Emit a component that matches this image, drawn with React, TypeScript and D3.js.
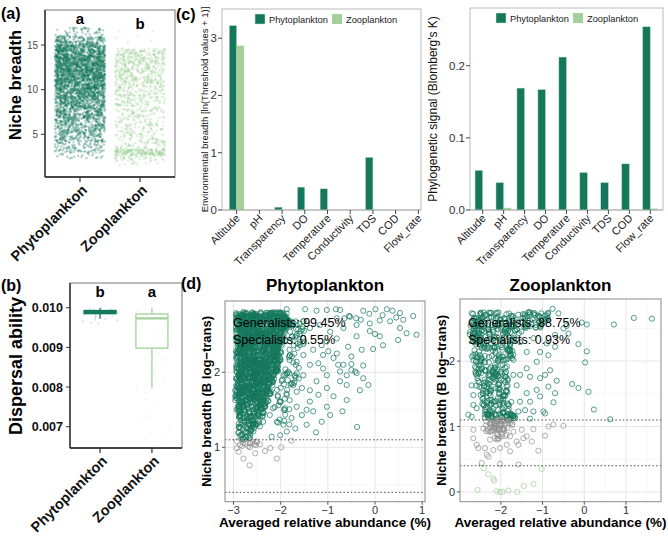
import React from "react";
import * as d3 from "d3";

const FF = "'Liberation Sans', Arial, Helvetica, sans-serif";
const PHYTO = "#15785c";
const ZOO = "#a3d09b";
const GRAY = "#8f8f8f";

const groups = ["Phytoplankton", "Zooplankton"];

// (a) niche breadth: density of the jittered cloud, [low, high, number of taxa]
const phytoNicheBins: number[][] = [
  [2.3, 3, 25], [3, 4, 75], [4, 5, 115], [5, 6, 155], [6, 7, 175], [7, 8, 210],
  [8, 9, 250], [9, 10, 310], [10, 11, 350], [11, 12, 390], [12, 13, 410],
  [13, 14, 390], [14, 15, 320], [15, 16, 175], [16, 17, 45],
];
const zooNicheBins: number[][] = [
  [1.5, 2.2, 20], [2.2, 2.7, 40], [2.7, 3.3, 170], [3.3, 4, 45], [4, 5, 55],
  [5, 6, 55], [6, 7, 55], [7, 8, 60], [8, 9, 70], [9, 10, 85], [10, 11, 95],
  [11, 12, 105], [12, 13, 115], [13, 14, 125], [14, 14.6, 70], [14.6, 16.6, 6],
];
const nicheTicks = [5, 10, 15];

// (b) dispersal ability: [min, q1, median, q3, max]
const dispersalBoxPhyto = [0.00972, 0.00985, 0.00989, 0.00993, 0.00999];
const dispersalBoxZoo = [0.00797, 0.00898, 0.00973, 0.00984, 0.0100];
const dispersalPtsPhyto = [0.0096, 0.00965, 0.0097, 0.00972, 0.00975, 0.00978, 0.0098, 0.00982,
  0.00985, 0.00987, 0.0099, 0.00992, 0.00995, 0.00997, 0.00999, 0.00962, 0.00968, 0.00981, 0.00993, 0.00996];
const dispersalPtsZoo = [0.00662, 0.00668, 0.00685, 0.007, 0.00712, 0.00725, 0.00735, 0.00748, 0.0077,
  0.00785, 0.008, 0.00815, 0.0083, 0.0085, 0.0087, 0.00885, 0.009, 0.00915, 0.0093, 0.00945, 0.00955,
  0.00965, 0.00975, 0.00985, 0.00992, 0.00998, 0.0087, 0.00912, 0.0096, 0.0098];
const dispersalTicks = [0.007, 0.008, 0.009, 0.01];

// (c)
const envVars = ["Altitude", "pH", "Transparency", "DO", "Temperature", "Conductivity", "TDS", "COD", "Flow_rate"];
const envBreadthPhyto = [3.22, 0, 0.05, 0.4, 0.37, 0, 0.92, 0, 0];
const envBreadthZoo = [2.87, 0, 0, 0, 0, 0, 0, 0, 0];
const envTicks = [0, 1, 2, 3];
const blombergPhyto = [0.055, 0.038, 0.169, 0.167, 0.212, 0.052, 0.038, 0.064, 0.254];
const blombergZoo = [0, 0.003, 0, 0, 0, 0, 0, 0, 0.002];
const blombergTicks = [0, 0.1, 0.2];

// (d) dense cores: [yLow, yHigh, xMin, xMax, number of taxa]
const phytoDenseRows: number[][] = [
  [2.7, 2.8, -2.95, -1.85, 135], [2.6, 2.7, -2.95, -1.75, 130], [2.5, 2.6, -2.95, -1.9, 120],
  [2.4, 2.5, -2.95, -2.0, 112], [2.3, 2.4, -2.95, -2.0, 112], [2.2, 2.3, -2.95, -2.0, 112],
  [2.1, 2.2, -2.95, -2.0, 110], [2.0, 2.1, -2.95, -2.05, 105], [1.9, 2.0, -2.97, -2.1, 100],
  [1.8, 1.9, -2.97, -2.15, 92], [1.7, 1.8, -2.97, -2.2, 85], [1.6, 1.7, -2.97, -2.25, 72],
  [1.5, 1.6, -2.95, -2.3, 55], [1.4, 1.5, -2.92, -2.35, 40], [1.3, 1.4, -2.9, -2.4, 30],
  [1.2, 1.3, -2.9, -2.5, 22], [1.1, 1.2, -2.9, -2.6, 14], [1.0, 1.1, -2.95, -2.5, 8],
  [2.3, 2.7, -2.0, -1.5, 45], [1.8, 2.3, -2.0, -1.6, 30], [1.3, 1.8, -2.2, -1.8, 20],
];
const phytoPoints: number[][] = [
  [-1.87, 2.84], [-1.48, 2.84], [-1.24, 2.82], [-1.02, 2.83], [-0.83, 2.84], [-0.74, 2.83], [-0.25, 2.82],
  [0.01, 2.84], [0.25, 2.84], [0.37, 2.82], [0.53, 2.79], [0.81, 2.75], [-0.55, 2.75], [-0.4, 2.72],
  [-0.12, 2.78], [0.16, 2.76], [0.45, 2.73], [-0.65, 2.72], [-0.3, 2.7], [0.1, 2.69],
  [-0.39, 2.48], [0.0, 2.51], [0.1, 2.48], [0.67, 2.52], [0.88, 2.5], [0.49, 2.43], [0.17, 2.36],
  [-0.04, 2.31], [-0.28, 2.3], [-0.57, 2.34], [-0.81, 2.45], [-1.02, 2.41], [-1.1, 2.23], [-0.88, 2.19],
  [-0.67, 2.1], [-0.5, 2.11], [-0.25, 2.09], [-0.5, 2.03], [-0.74, 2.01], [-0.6, 1.96], [-0.39, 1.99],
  [-0.25, 1.92], [-0.14, 1.83], [-0.32, 1.76], [-0.6, 1.83], [-0.74, 1.88], [-1.02, 1.79], [-0.88, 1.68],
  [-0.6, 1.63], [-1.2, 1.7], [-1.38, 1.61], [-1.45, 1.5], [-1.31, 1.48], [-1.55, 1.43], [-1.13, 1.34],
  [-1.45, 1.3], [-1.25, 1.2], [-0.69, 1.48], [-0.38, 1.27], [-1.69, 1.25], [-1.87, 1.21], [-2.01, 1.16],
  [-2.19, 1.14], [-1.77, 1.39], [-1.91, 1.52], [-1.66, 1.54], [-1.02, 1.54], [-0.95, 1.43], [-1.24, 1.88],
  [-1.52, 1.96], [-1.38, 2.1], [-1.1, 2.05], [-1.02, 1.96], [-1.2, 2.12], [-0.99, 2.28], [-0.81, 2.25],
  [-0.5, 2.21], [-1.31, 2.3], [-1.13, 2.36], [-1.52, 2.23], [-1.66, 2.14], [-1.73, 1.83], [-1.87, 1.7],
  [-2.01, 1.61], [-2.16, 1.52], [-2.23, 1.43], [-2.37, 1.34], [-2.44, 1.28], [-2.58, 1.21], [-2.65, 1.16],
  [-2.08, 1.34], [-1.94, 1.3], [-1.66, 1.74], [-1.55, 1.79], [-1.38, 1.76], [-0.78, 2.1], [-0.42, 2.01],
  [-0.67, 2.59], [-0.39, 2.63], [-0.11, 2.65], [0.32, 2.68], [0.6, 2.7], [0.53, 2.59], [-0.11, 2.55],
  [-0.95, 2.54], [-1.17, 2.63], [-1.38, 2.59], [-1.52, 2.68], [-1.66, 2.5], [-1.8, 2.41], [-0.81, 2.72],
  [-0.53, 2.74],
  [-2.54, 0.92], [-2.79, 0.85], [-2.66, 0.76], [-2.22, 0.99], [-1.99, 1.0], [-2.08, 0.85], [-2.33, 0.95],
  [-1.77, 1.09], [-2.65, 1.0], [-2.93, 1.08], [-2.86, 1.03], [-2.93, 0.99], [-2.75, 1.05], [-2.65, 1.05],
  [-2.89, 0.94], [-2.52, 1.08], [-2.44, 1.04],
];
const zooDenseRows: number[][] = [
  [2.6, 2.75, -2.7, -0.85, 80], [2.5, 2.6, -2.75, -1.0, 58], [2.4, 2.5, -2.75, -1.5, 45],
  [2.2, 2.4, -2.7, -1.6, 58], [2.0, 2.2, -2.7, -1.7, 52], [1.8, 2.0, -2.65, -1.75, 45],
  [1.6, 1.8, -2.6, -1.8, 40], [1.4, 1.6, -2.5, -1.8, 38], [1.2, 1.4, -2.45, -1.75, 40],
  [1.1, 1.2, -2.4, -1.65, 40], [0.95, 1.1, -2.4, -1.7, 40], [0.8, 0.95, -2.35, -1.85, 15],
];
const zooPoints: number[][] = [
  [1.19, 2.66], [1.62, 2.65], [0.71, 2.56], [-0.06, 2.59], [0.06, 2.56], [-0.42, 2.54], [-0.14, 2.26],
  [0.06, 2.15], [0.02, 1.98], [-0.29, 1.65], [-0.14, 1.59], [0.1, 1.53], [0.23, 1.26], [0.62, 1.11],
  [-0.76, 2.8], [-0.62, 2.73], [-0.5, 2.5], [-0.38, 2.42], [-0.7, 2.4], [-0.9, 2.27], [-0.7, 2.22],
  [-0.86, 2.09], [-0.82, 1.86], [-1.06, 1.74], [-0.66, 1.7], [-0.86, 1.61], [-1.14, 1.56], [-0.94, 1.79],
  [-1.3, 1.76], [-0.7, 1.51], [-0.74, 1.37], [-0.98, 1.23], [-1.22, 1.23], [-1.42, 1.25], [-1.3, 1.12],
  [-0.94, 1.2], [-1.06, 1.46], [-1.3, 1.38], [-1.54, 1.38], [-1.38, 1.51], [-1.62, 1.63], [-1.38, 1.89],
  [-1.54, 1.79], [-1.14, 1.99], [-1.38, 2.14], [-1.06, 2.14], [-1.54, 2.29], [-1.22, 2.35], [-1.7, 2.02],
  [-1.7, 1.79], [-1.58, 1.23], [-2.7, 1.15], [-2.78, 1.18], [-2.66, 1.48], [-2.7, 1.63], [-2.66, 1.33],
  [-2.58, 1.28], [-2.58, 1.79],
  [-2.66, 0.95], [-2.66, 0.82], [-2.54, 0.67], [-2.38, 0.67], [-2.26, 0.8], [-2.1, 0.8], [-2.02, 0.67],
  [-1.86, 0.72], [-1.78, 0.85], [-1.62, 0.77], [-1.38, 0.85], [-1.26, 0.77], [-0.94, 0.86], [-0.86, 1.0],
  [-0.5, 1.01], [-0.74, 1.03], [-1.1, 0.63], [-2.3, 0.54], [-2.34, 0.57], [-2.46, 0.44], [-2.02, 0.43],
  [-1.58, 0.42], [-1.58, 0.72], [-1.94, 0.95], [-2.26, 0.92], [-2.42, 0.97], [-2.14, 0.97], [-1.7, 0.92],
  [-1.5, 0.95], [-1.22, 0.96], [-2.58, 0.72], [-2.18, 0.64], [-1.78, 0.62], [-1.46, 0.82], [-2.1, 1.08],
  [-1.78, 1.05],
  [-2.41, 0.36], [-2.3, 0.27], [-2.18, 0.2], [-2.16, 0.17], [-2.56, 0.03], [-2.02, 0.0], [-1.96, 0.0],
  [-1.82, 0.02], [-1.61, 0.0], [-1.45, 0.09], [-1.22, 0.12], [-1.02, 0.35], [-2.1, 0.01],
];
const generalistCut = 1.1;
const specialistCut = 0.4;

// jitter layout: deterministic hash spreads each bin's taxa inside the bin (placement, not data)
function hash(k: number) {
  let t = (Math.imul(k, 0x6d2b79f5) + 0x9e3779b9) >>> 0;
  t = Math.imul(t ^ (t >>> 15), t | 1);
  t ^= t + Math.imul(t ^ (t >>> 7), t | 61);
  return ((t ^ (t >>> 14)) >>> 0) / 4294967296;
}
function spread(bins: number[][], seed: number) {
  const out: { u: number; v: number }[] = [];
  let k = seed;
  for (const [lo, hi, n] of bins) {
    for (let i = 0; i < n; i++) {
      k++;
      out.push({ u: hash(2 * k), v: lo + (hi - lo) * hash(2 * k + 1) });
    }
  }
  return out;
}
function spreadRows(rows: number[][], seed: number) {
  const out: number[][] = [];
  let k = seed;
  for (const [lo, hi, x0, x1, n] of rows) {
    for (let i = 0; i < n; i++) {
      k++;
      out.push([x0 + (x1 - x0) * hash(2 * k), lo + (hi - lo) * hash(2 * k + 1)]);
    }
  }
  return out;
}
const ptColor = (y: number) => (y >= generalistCut ? PHYTO : y >= specialistCut ? GRAY : ZOO);

function RotLabel({ x, y, text, size, weight = "normal", fill = "#222" }: any) {
  return (
    <text transform={`translate(${x},${y}) rotate(-45)`} textAnchor="end" fontSize={size} fontWeight={weight} fill={fill}>
      {text}
    </text>
  );
}

function PanelA() {
  const x = d3.scalePoint<string>().domain(groups).range([45, 175]).padding(0.583);
  const y = d3.scaleLinear().domain([0.22, 18.92]).range([177, 10]);
  const half = 25;
  const sets = [spread(phytoNicheBins, 0), spread(zooNicheBins, 5000)];
  const cols = [PHYTO, "#9ccf95"];
  return (
    <g>
      <rect x={45} y={10} width={130} height={167} fill="white" stroke="#555" strokeWidth={0.8} />
      {sets.map((s, gi) =>
        s.map((p, i) => (
          <circle key={gi + "-" + i} cx={x(groups[gi])! + (p.u - 0.5) * 2 * half} cy={y(p.v)} r={1.2}
            fill={cols[gi]} fillOpacity={gi === 0 ? 0.33 : 0.3} />
        ))
      )}
      <line x1={45} x2={45} y1={10} y2={177} stroke="#222" strokeWidth={1.3} />
      <line x1={45} x2={175} y1={177} y2={177} stroke="#222" strokeWidth={1.3} />
      {nicheTicks.map((t) => (
        <g key={t}>
          <line x1={41} x2={45} y1={y(t)} y2={y(t)} stroke="#333" />
          <text x={38} y={y(t) + 3.5} textAnchor="end" fontSize={10} fill="#4d4d4d">{t}</text>
        </g>
      ))}
      {groups.map((g) => (
        <g key={g}>
          <line x1={x(g)} x2={x(g)} y1={177} y2={182} stroke="#333" strokeWidth={1.2} />
          <RotLabel x={x(g)! + 8} y={191} text={g} size={14.5} weight="bold" fill="#111" />
        </g>
      ))}
      <text x={x(groups[0])} y={24} textAnchor="middle" fontSize={15} fontWeight="bold">a</text>
      <text x={x(groups[1])} y={29} textAnchor="middle" fontSize={15} fontWeight="bold">b</text>
      <text transform="translate(21,85) rotate(-90)" textAnchor="middle" fontSize={16.5} fontWeight="bold">Niche breadth</text>
      <text x={1} y={19} fontSize={16} fontWeight="bold">(a)</text>
    </g>
  );
}

function PanelB() {
  const x = d3.scalePoint<string>().domain(groups).range([70, 182]).padding(0.58);
  const y = d3.scaleLinear().domain([0.006463, 0.010623]).range([448, 283]);
  const boxes = [dispersalBoxPhyto, dispersalBoxZoo];
  const pts = [dispersalPtsPhyto, dispersalPtsZoo];
  const cols = [PHYTO, ZOO];
  const bw = 32;
  return (
    <g>
      <rect x={70} y={283} width={112} height={165} fill="white" stroke="#555" strokeWidth={0.8} />
      {pts.map((arr, gi) =>
        arr.map((v, i) => (
          <circle key={gi + "p" + i} cx={x(groups[gi])! + (hash(900 + i + gi * 40) - 0.5) * 36}
            cy={y(v)} r={1} fill={cols[gi]} fillOpacity={0.2} />
        ))
      )}
      {boxes.map((b, gi) => {
        const cx = x(groups[gi])!;
        return (
          <g key={gi} stroke={cols[gi]} fill="none" strokeWidth={1.3}>
            <line x1={cx} x2={cx} y1={y(b[0])} y2={y(b[1])} />
            <line x1={cx} x2={cx} y1={y(b[3])} y2={y(b[4])} />
            <rect x={cx - bw / 2} y={y(b[3])} width={bw} height={y(b[1]) - y(b[3])} fill={gi === 0 ? PHYTO : "white"} fillOpacity={gi === 0 ? 0.85 : 0} />
            <line x1={cx - bw / 2} x2={cx + bw / 2} y1={y(b[2])} y2={y(b[2])} strokeWidth={2.2} />
          </g>
        );
      })}
      <line x1={70} x2={70} y1={283} y2={448} stroke="#222" strokeWidth={1.3} />
      <line x1={70} x2={182} y1={448} y2={448} stroke="#222" strokeWidth={1.3} />
      {dispersalTicks.map((t) => (
        <g key={t}>
          <line x1={66} x2={70} y1={y(t)} y2={y(t)} stroke="#333" />
          <text x={63} y={y(t) + 4.5} textAnchor="end" fontSize={12.5} fontWeight="bold" fill="#111">{t.toFixed(3)}</text>
        </g>
      ))}
      {groups.map((g) => (
        <g key={g}>
          <line x1={x(g)} x2={x(g)} y1={448} y2={453} stroke="#333" strokeWidth={1.2} />
          <RotLabel x={x(g)! + 8} y={462} text={g} size={14.5} weight="bold" fill="#111" />
        </g>
      ))}
      <text x={x(groups[0])} y={297} textAnchor="middle" fontSize={15} fontWeight="bold">b</text>
      <text x={x(groups[1])} y={297} textAnchor="middle" fontSize={15} fontWeight="bold">a</text>
      <text transform="translate(22,366) rotate(-90)" textAnchor="middle" fontSize={18} fontWeight="bold">Dispersal ability</text>
      <text x={1} y={291} fontSize={16} fontWeight="bold">(b)</text>
    </g>
  );
}

function Legend({ x0, y0 }: { x0: number; y0: number }) {
  return (
    <g fontSize={9.3} fill="#222">
      <rect x={x0} y={y0} width={10} height={10} fill={PHYTO} stroke="#cfe6cb" strokeWidth={0.5} />
      <text x={x0 + 14} y={y0 + 8.5}>Phytoplankton</text>
      <rect x={x0 + 77} y={y0} width={10} height={10} fill={ZOO} />
      <text x={x0 + 91} y={y0 + 8.5}>Zooplankton</text>
    </g>
  );
}

function BarPanel({ left, right, top, bottom, clipRight, vals, ticks, yMax, pi, po, yTitle, titleX, titleSize, fmt, labelDx }: any) {
  const x = d3.scaleBand<string>().domain(envVars).range([left, right]).paddingInner(pi).paddingOuter(po);
  const sub = d3.scaleBand<string>().domain(groups).range([0, x.bandwidth()]);
  const y = d3.scaleLinear().domain([0, yMax]).range([bottom, top]);
  const cols = [PHYTO, ZOO];
  const cid = "clip" + left;
  return (
    <g>
      <clipPath id={cid}><rect x={left} y={top} width={clipRight - left} height={bottom - top + 1} /></clipPath>
      <rect x={left} y={top} width={clipRight - left} height={bottom - top} fill="white" stroke="#aaa" strokeWidth={0.8} />
      <g clipPath={`url(#${cid})`}>
        {vals.map((arr: number[], gi: number) =>
          arr.map((v, i) => (
            <rect key={gi + "-" + i} x={x(envVars[i])! + sub(groups[gi])!} y={y(v)} width={sub.bandwidth()}
              height={bottom - y(v)} fill={cols[gi]} stroke={gi === 0 ? "#bfe0bb" : "none"} strokeWidth={0.5} />
          ))
        )}
      </g>
      <line x1={left} x2={clipRight} y1={bottom} y2={bottom} stroke="#aaa" strokeWidth={0.8} />
      {ticks.map((t: number) => (
        <g key={t}>
          <line x1={left - 4} x2={left} y1={y(t)} y2={y(t)} stroke="#444" />
          <text x={left - 5} y={y(t) + 4} textAnchor="end" fontSize={11.5} fill="#333">{fmt(t)}</text>
        </g>
      ))}
      {envVars.map((v) => {
        const cx = x(v)! + x.bandwidth() / 2;
        return (
          <g key={v}>
            <line x1={cx} x2={cx} y1={bottom} y2={bottom + 4} stroke="#444" />
            <RotLabel x={cx + labelDx} y={bottom + 9} text={v} size={11} fill="#222" />
          </g>
        );
      })}
      <text transform={`translate(${titleX},${(top + bottom) / 2}) rotate(-90)`} textAnchor="middle" fontSize={titleSize} fill="#111">{yTitle}</text>
    </g>
  );
}

function Scatter({ left, right, top, bottom, xDom, yDom, xMajor, xMinor, yMajor, yMinor, dense, pts, seed, title, gen, spec, yTitleX }: any) {
  const x = d3.scaleLinear().domain(xDom).range([left, right]);
  const y = d3.scaleLinear().domain(yDom).range([bottom, top]);
  const all = [...spreadRows(dense, seed), ...pts];
  const cid = "sc" + left;
  const fmt = (t: number) => (t < 0 ? "\u2212" + Math.abs(t) : String(t));
  return (
    <g>
      <clipPath id={cid}><rect x={left} y={top} width={right - left} height={bottom - top} /></clipPath>
      <rect x={left} y={top} width={right - left} height={bottom - top} fill="white" />
      {xMinor.map((t: number) => <line key={"xm" + t} x1={x(t)} x2={x(t)} y1={top} y2={bottom} stroke="#f1f1f1" strokeWidth={0.6} />)}
      {yMinor.map((t: number) => <line key={"ym" + t} x1={left} x2={right} y1={y(t)} y2={y(t)} stroke="#f1f1f1" strokeWidth={0.6} />)}
      {xMajor.map((t: number) => <line key={"xM" + t} x1={x(t)} x2={x(t)} y1={top} y2={bottom} stroke="#e6e6e6" strokeWidth={1} />)}
      {yMajor.map((t: number) => <line key={"yM" + t} x1={left} x2={right} y1={y(t)} y2={y(t)} stroke="#e6e6e6" strokeWidth={1} />)}
      <g clipPath={`url(#${cid})`}>
        {all.map((p: number[], i: number) => (
          <circle key={i} cx={x(p[0])} cy={y(p[1])} r={2.6} fill="none" stroke={ptColor(p[1])} strokeWidth={0.8} strokeOpacity={0.9} />
        ))}
        {[generalistCut, specialistCut].map((c) => (
          <line key={c} x1={left} x2={right} y1={y(c)} y2={y(c)} stroke="#333" strokeWidth={0.9} strokeDasharray="1.5,2.2" />
        ))}
      </g>
      <rect x={left} y={top} width={right - left} height={bottom - top} fill="none" stroke="#8a8a8a" strokeWidth={1} />
      {xMajor.map((t: number) => (
        <g key={"tx" + t}>
          <line x1={x(t)} x2={x(t)} y1={bottom} y2={bottom + 3} stroke="#555" />
          <text x={x(t)} y={bottom + 12} textAnchor="middle" fontSize={11} fill="#333">{fmt(t)}</text>
        </g>
      ))}
      {yMajor.map((t: number) => (
        <g key={"ty" + t}>
          <line x1={left - 3} x2={left} y1={y(t)} y2={y(t)} stroke="#555" />
          <text x={left - 5} y={y(t) + 4} textAnchor="end" fontSize={11} fill="#333">{t}</text>
        </g>
      ))}
      <text x={left + 8} y={327} fontSize={12.5} fill="#000">{gen}</text>
      <text x={left + 8} y={344} fontSize={12.5} fill="#000">{spec}</text>
      <text x={(left + right) / 2} y={291} textAnchor="middle" fontSize={17} fontWeight="bold">{title}</text>
      <text x={(left + right) / 2} y={527} textAnchor="middle" fontSize={13.5} fontWeight="bold">Averaged relative abundance (%)</text>
      <text transform={`translate(${yTitleX},${(top + bottom) / 2}) rotate(-90)`} textAnchor="middle" fontSize={13} fontWeight="bold">Niche breadth (B log{"\u2212"}trans)</text>
    </g>
  );
}

export default function App() {
  return (
    <svg width={668} height={541} viewBox="0 0 668 541" style={{ position: "absolute", left: 0, top: 0, background: "white" }} fontFamily={FF}>
      <rect width={668} height={541} fill="white" />
      <PanelA />
      <PanelB />
      <BarPanel left={222} right={433} top={9} bottom={210} clipRight={421} vals={[envBreadthPhyto, envBreadthZoo]}
        ticks={envTicks} yMax={3.51} pi={0.35} po={0.32} titleX={208} titleSize={9.5} labelDx={4}
        yTitle="Environmental breadth [ln(Threshold values + 1)]" fmt={(t: number) => String(t)} />
      <BarPanel left={470} right={663} top={8} bottom={210} clipRight={663} vals={[blombergPhyto, blombergZoo]}
        ticks={blombergTicks} yMax={0.28} pi={0.27} po={0.24} titleX={437} titleSize={12} labelDx={4}
        yTitle="Phylogenetic signal (Blomberg's K)" fmt={(t: number) => t.toFixed(1)} />
      <Legend x0={255} y0={14} />
      <Legend x0={496} y0={13} />
      <text x={176} y={20} fontSize={16} fontWeight="bold">(c)</text>
      <Scatter left={225} right={425} top={301} bottom={501.7} xDom={[-3.18, 1.06]} yDom={[0.275, 2.95]}
        xMajor={[-3, -2, -1, 0, 1]} xMinor={[-2.5, -1.5, -0.5, 0.5]} yMajor={[1, 2]} yMinor={[0.5, 1.5, 2.5]}
        dense={phytoDenseRows} pts={phytoPoints} seed={0} title="Phytoplankton"
        gen="Generalists: 99.45%" spec="Specialists: 0.55%" yTitleX={211} />
      <Scatter left={460} right={661} top={299} bottom={501.7} xDom={[-2.98, 1.84]} yDom={[-0.15, 2.95]}
        xMajor={[-2, -1, 0, 1]} xMinor={[-2.5, -1.5, -0.5, 0.5, 1.5]} yMajor={[0, 1, 2]} yMinor={[0.5, 1.5, 2.5]}
        dense={zooDenseRows} pts={zooPoints} seed={3000} title="Zooplankton"
        gen="Generalists: 88.75%" spec="Specialists: 0.93%" yTitleX={446} />
      <text x={181} y={289} fontSize={16} fontWeight="bold">(d)</text>
    </svg>
  );
}
